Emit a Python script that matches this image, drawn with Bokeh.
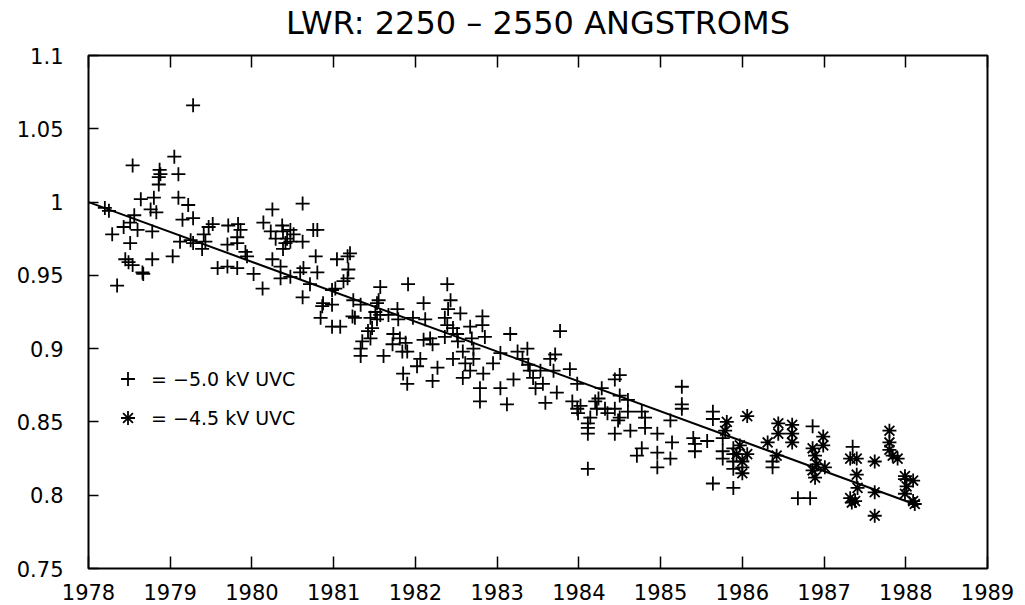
from bokeh.plotting import figure
from bokeh.models import LinearAxis, FixedTicker, Legend, LegendItem
from bokeh.embed import file_html
from bokeh.resources import INLINE

title_text = "LWR: 2250 \u2013 2550 ANGSTROMS"

year_ticks = [1978, 1979, 1980, 1981, 1982, 1983, 1984, 1985, 1986, 1987, 1988, 1989]
value_ticks = [0.75, 0.8, 0.85, 0.9, 0.95, 1.0, 1.05, 1.1]
value_labels = ["0.75", "0.8", "0.85", "0.9", "0.95", "1", "1.05", "1.1"]

# -5.0 kV UVC (plus markers)
plus_year = [
    1978.20, 1978.25, 1979.05, 1978.54, 1978.87, 1978.88, 1978.86, 1978.86, 1979.10, 1978.64,
    1978.80, 1979.10, 1979.22, 1978.76, 1978.83, 1978.56, 1979.15, 1979.28, 1978.51, 1978.43,
    1978.60, 1978.29, 1978.78, 1978.51, 1979.03, 1978.78, 1978.45, 1978.49, 1978.54, 1978.66,
    1978.67, 1978.35, 1979.47, 1979.52, 1979.41, 1979.43, 1979.25, 1979.12, 1979.28, 1979.39,
    1979.71, 1979.83, 1979.86, 1979.82, 1979.70, 1979.82, 1979.92, 1979.94, 1979.58, 1979.70,
    1979.82, 1980.02, 1980.13, 1980.25, 1980.14, 1980.23, 1980.29, 1980.37, 1980.38, 1980.43,
    1980.41, 1980.38, 1980.47, 1980.51, 1980.47, 1980.62, 1980.75, 1980.80, 1980.62, 1980.25,
    1980.35, 1980.78, 1980.80, 1980.63, 1980.59, 1980.47, 1980.35, 1980.71, 1981.04, 1981.02,
    1980.62, 1981.20, 1981.17, 1981.18, 1981.17, 1981.12, 1980.98, 1980.87, 1980.86, 1980.98,
    1980.84, 1980.98, 1981.08, 1981.24, 1981.33, 1981.26, 1981.23, 1981.57, 1981.55, 1981.53,
    1981.51, 1981.57, 1981.45, 1981.47, 1981.53, 1981.42, 1981.35, 1981.33, 1981.33, 1981.45,
    1981.61, 1981.91, 1982.10, 1981.78, 1981.67, 1981.79, 1981.97, 1982.12, 1981.73, 1981.81,
    1981.88, 1981.72, 1981.84, 1981.90, 1982.10, 1982.18, 1982.21, 1981.85, 1981.90, 1982.02,
    1982.06, 1982.27, 1982.21, 1982.39, 1982.43, 1982.40, 1982.55, 1982.36, 1982.39, 1982.46,
    1982.36, 1982.51, 1982.52, 1982.58, 1982.46, 1982.67, 1982.69, 1982.71, 1982.82, 1982.82,
    1982.85, 1982.71, 1982.61, 1982.67, 1982.58, 1982.79, 1982.79, 1983.04, 1982.83, 1982.95,
    1983.04, 1983.16, 1983.12, 1983.20, 1983.25, 1983.37, 1983.31, 1983.38, 1983.40, 1983.44,
    1983.53, 1983.47, 1983.56, 1983.65, 1983.71, 1983.69, 1983.59, 1983.73, 1983.77, 1983.89,
    1983.98, 1983.92, 1984.02, 1983.98, 1984.14, 1984.20, 1984.22, 1983.99, 1984.11, 1984.11,
    1984.11, 1984.11, 1984.28, 1984.24, 1984.32, 1984.35, 1984.44, 1984.50, 1984.50, 1984.44,
    1984.50, 1984.48, 1984.44, 1984.60, 1984.60, 1984.63, 1984.77, 1984.81, 1984.81, 1984.77,
    1984.71, 1984.96, 1984.96, 1984.96, 1985.12, 1985.14, 1985.12, 1985.26, 1985.26, 1985.26,
    1985.40, 1985.42, 1985.42, 1985.57, 1985.64, 1985.64, 1985.76, 1985.76, 1985.76, 1985.64,
    1985.89, 1985.89, 1985.89, 1985.89, 1986.00, 1985.89, 1986.37, 1986.37, 1986.68, 1986.83,
    1986.86, 1987.35, 1987.99, 1979.28,
]
plus_value = [
    0.996, 0.994, 1.031, 1.025, 1.022, 1.019, 1.017, 1.012, 1.019, 1.002,
    1.003, 1.003, 0.998, 0.995, 0.993, 0.991, 0.988, 0.989, 0.986, 0.983,
    0.981, 0.978, 0.980, 0.972, 0.963, 0.961, 0.961, 0.959, 0.957, 0.952,
    0.951, 0.943, 0.983, 0.985, 0.978, 0.973, 0.974, 0.973, 0.972, 0.968,
    0.984, 0.985, 0.981, 0.976, 0.971, 0.972, 0.966, 0.963, 0.955, 0.956,
    0.955, 0.951, 0.941, 0.995, 0.986, 0.980, 0.975, 0.984, 0.980, 0.975,
    0.972, 0.968, 0.981, 0.978, 0.973, 0.973, 0.981, 0.981, 0.999, 0.961,
    0.956, 0.963, 0.952, 0.955, 0.952, 0.949, 0.948, 0.944, 0.961, 0.941,
    0.935, 0.965, 0.963, 0.954, 0.948, 0.946, 0.940, 0.931, 0.929, 0.930,
    0.921, 0.915, 0.915, 0.933, 0.930, 0.921, 0.922, 0.942, 0.933, 0.931,
    0.925, 0.923, 0.921, 0.914, 0.920, 0.912, 0.905, 0.900, 0.895, 0.907,
    0.895, 0.944, 0.931, 0.927, 0.923, 0.920, 0.921, 0.920, 0.910, 0.907,
    0.904, 0.903, 0.898, 0.898, 0.906, 0.907, 0.903, 0.883, 0.876, 0.888,
    0.893, 0.887, 0.878, 0.944, 0.933, 0.927, 0.924, 0.921, 0.916, 0.914,
    0.908, 0.910, 0.905, 0.898, 0.893, 0.915, 0.907, 0.900, 0.922, 0.916,
    0.908, 0.893, 0.890, 0.885, 0.880, 0.873, 0.864, 0.873, 0.883, 0.890,
    0.897, 0.910, 0.862, 0.879, 0.898, 0.900, 0.893, 0.889, 0.885, 0.880,
    0.885, 0.873, 0.876, 0.893, 0.896, 0.885, 0.863, 0.870, 0.912, 0.886,
    0.876, 0.864, 0.861, 0.859, 0.853, 0.864, 0.859, 0.856, 0.849, 0.846,
    0.842, 0.818, 0.873, 0.866, 0.859, 0.856, 0.879, 0.882, 0.868, 0.859,
    0.853, 0.851, 0.842, 0.865, 0.857, 0.844, 0.857, 0.853, 0.846, 0.832,
    0.827, 0.842, 0.829, 0.819, 0.851, 0.836, 0.825, 0.874, 0.862, 0.859,
    0.839, 0.835, 0.830, 0.837, 0.857, 0.852, 0.839, 0.830, 0.825, 0.808,
    0.805, 0.832, 0.828, 0.823, 0.819, 0.818, 0.823, 0.819, 0.798, 0.798,
    0.847, 0.833, 0.811, 1.066,
]

# -4.5 kV UVC (asterisk markers)
star_year = [
    1985.81, 1985.79, 1986.06, 1985.97, 1985.93, 1986.00, 1986.00, 1986.06, 1986.31, 1986.44,
    1986.44, 1986.61, 1986.61, 1986.61, 1986.42, 1986.86, 1986.89, 1986.91, 1986.99, 1986.99,
    1987.01, 1986.89, 1986.86, 1987.32, 1987.40, 1987.40, 1987.41, 1987.32, 1987.34, 1987.38,
    1987.62, 1987.62, 1987.62, 1987.80, 1987.80, 1987.80, 1987.84, 1987.90, 1987.99, 1988.01,
    1987.99, 1988.09, 1988.09, 1988.11,
]
star_value = [
    0.850, 0.844, 0.854, 0.834, 0.828, 0.823, 0.815, 0.828, 0.836, 0.849,
    0.842, 0.848, 0.842, 0.836, 0.827, 0.832, 0.827, 0.821, 0.840, 0.834,
    0.819, 0.812, 0.817, 0.825, 0.825, 0.814, 0.805, 0.798, 0.795, 0.796,
    0.823, 0.802, 0.786, 0.844, 0.836, 0.831, 0.827, 0.825, 0.813, 0.806,
    0.801, 0.810, 0.796, 0.794,
]

# linear fit
fit_year = [1978.0, 1988.15]
fit_value = [1.0, 0.793]

FONT = "DejaVu Sans"

p = figure(width=1025, height=605, x_range=(1978, 1989), y_range=(0.75, 1.1),
           output_backend="svg", toolbar_location=None, x_axis_location=None,
           y_axis_location=None)
p.min_border = 0
p.min_border_left = 88
p.min_border_right = 38
p.min_border_top = 53
p.min_border_bottom = 37
p.background_fill_color = "white"
p.border_fill_color = "white"
p.grid.visible = False
p.outline_line_color = "black"
p.outline_line_width = 2

xb = LinearAxis(ticker=FixedTicker(ticks=year_ticks))
xt = LinearAxis(ticker=FixedTicker(ticks=year_ticks))
yl = LinearAxis(ticker=FixedTicker(ticks=value_ticks),
                major_label_overrides={v: s for v, s in zip(value_ticks, value_labels)})
for ax in (xb, xt, yl):
    ax.axis_line_color = None
    ax.major_tick_out = 0
    ax.minor_tick_line_color = None
    ax.major_tick_line_color = "black"
    ax.major_tick_line_width = 1.5
    ax.major_label_text_font = FONT
    ax.major_label_text_color = "black"
    ax.major_label_text_font_size = "21px"
xb.major_tick_in = 12
xt.major_tick_in = 12
yl.major_tick_in = 10
xb.major_label_standoff = 15
yl.major_label_standoff = 25
xt.major_label_text_font_size = "1px"
xt.major_label_text_color = None
xt.major_label_standoff = 0
# the chart title is carried by the top axis
xt.axis_label = title_text
xt.axis_label_text_font = FONT
xt.axis_label_text_font_size = "32px"
xt.axis_label_text_font_style = "normal"
xt.axis_label_text_color = "black"
xt.axis_label_standoff = 14
p.add_layout(xb, "below")
p.add_layout(xt, "above")
p.add_layout(yl, "left")

p.line(fit_year, fit_value, line_color="black", line_width=2)
r_plus = p.scatter(plus_year, plus_value, marker="cross", size=14,
                   line_color="black", line_width=1.8)
r_star = p.scatter(star_year, star_value, marker="asterisk", size=14,
                   line_color="black", line_width=1.8)

legend = Legend(items=[LegendItem(label="= \u22125.0 kV UVC", renderers=[r_plus]),
                       LegendItem(label="= \u22124.5 kV UVC", renderers=[r_star])],
                location=(22, 133), border_line_color=None, background_fill_alpha=0,
                glyph_width=35, glyph_height=35, spacing=4, padding=0, margin=0,
                label_standoff=6, label_text_font=FONT, label_text_font_size="19px",
                label_text_color="black")
p.add_layout(legend, "center")

open("out.html", "w").write(file_html(p, INLINE))
